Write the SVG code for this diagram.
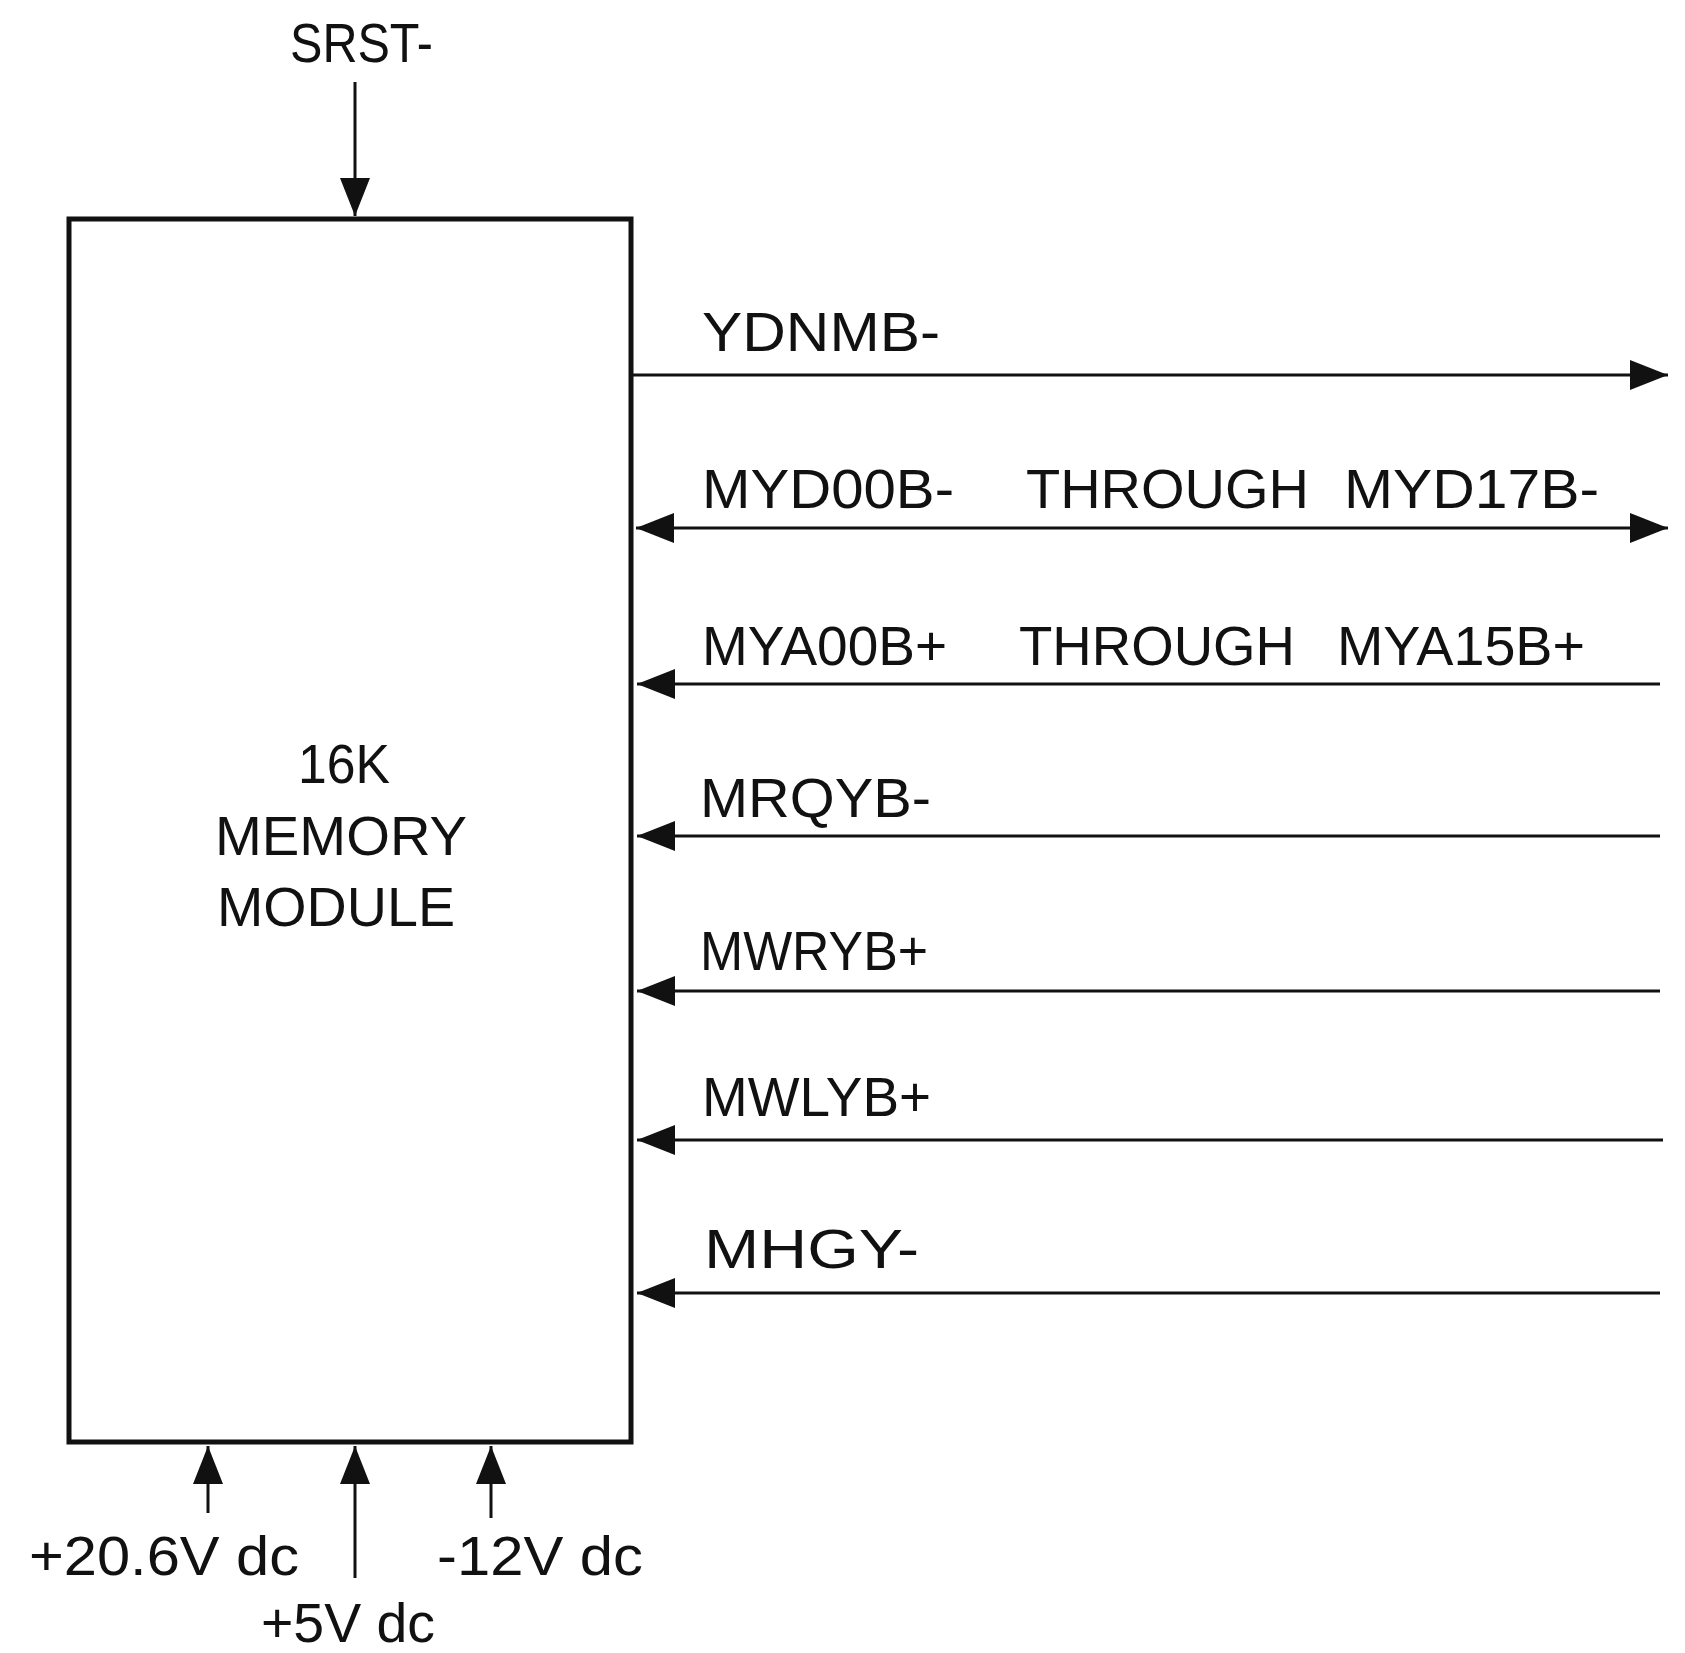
<svg xmlns="http://www.w3.org/2000/svg" width="1685" height="1653" viewBox="0 0 1685 1653">
<style>
text{font-family:"Liberation Sans",Arial,sans-serif;font-size:56px;fill:#111}
.box{fill:none;stroke:#111;stroke-width:5}
.wire{fill:none;stroke:#111;stroke-width:3}
</style>
<defs>
<marker id="ah" markerUnits="userSpaceOnUse" markerWidth="38" markerHeight="30" refX="38" refY="15" orient="auto-start-reverse">
<path d="M0,0 L38,15 L0,30 Z" fill="#111"/>
</marker>
</defs>
<rect width="1685" height="1653" fill="#fff"/>
<g id="memory-module">
<rect class="box" x="69" y="219" width="562" height="1223"/>
<text x="298" y="783" textLength="92" lengthAdjust="spacingAndGlyphs">16K</text>
<text x="215" y="855" textLength="252" lengthAdjust="spacingAndGlyphs">MEMORY</text>
<text x="217" y="926" textLength="238" lengthAdjust="spacingAndGlyphs">MODULE</text>
</g>
<g id="connectors">
<line class="wire" x1="355" y1="82" x2="355" y2="216" marker-end="url(#ah)"/>
<line class="wire" x1="633" y1="375" x2="1668" y2="375" marker-end="url(#ah)"/>
<line class="wire" x1="636" y1="528" x2="1668" y2="528" marker-start="url(#ah)" marker-end="url(#ah)"/>
<line class="wire" x1="1660" y1="684" x2="637" y2="684" marker-end="url(#ah)"/>
<line class="wire" x1="1660" y1="836" x2="637" y2="836" marker-end="url(#ah)"/>
<line class="wire" x1="1660" y1="991" x2="637" y2="991" marker-end="url(#ah)"/>
<line class="wire" x1="1663" y1="1140" x2="637" y2="1140" marker-end="url(#ah)"/>
<line class="wire" x1="1660" y1="1293" x2="637" y2="1293" marker-end="url(#ah)"/>
<line class="wire" x1="208" y1="1513" x2="208" y2="1446" marker-end="url(#ah)"/>
<line class="wire" x1="355" y1="1578" x2="355" y2="1446" marker-end="url(#ah)"/>
<line class="wire" x1="491" y1="1518" x2="491" y2="1446" marker-end="url(#ah)"/>
</g>
<g id="labels">
<text x="290" y="62" textLength="143" lengthAdjust="spacingAndGlyphs">SRST-</text>
<text x="702" y="351" textLength="238" lengthAdjust="spacingAndGlyphs">YDNMB-</text>
<text x="702" y="508" textLength="252" lengthAdjust="spacingAndGlyphs">MYD00B-</text>
<text x="1026" y="508" textLength="283" lengthAdjust="spacingAndGlyphs">THROUGH</text>
<text x="1344" y="508" textLength="255" lengthAdjust="spacingAndGlyphs">MYD17B-</text>
<text x="702" y="665" textLength="245" lengthAdjust="spacingAndGlyphs">MYA00B+</text>
<text x="1019" y="665" textLength="276" lengthAdjust="spacingAndGlyphs">THROUGH</text>
<text x="1337" y="665" textLength="248" lengthAdjust="spacingAndGlyphs">MYA15B+</text>
<text x="700" y="817" textLength="231" lengthAdjust="spacingAndGlyphs">MRQYB-</text>
<text x="700" y="970" textLength="228" lengthAdjust="spacingAndGlyphs">MWRYB+</text>
<text x="702" y="1116" textLength="229" lengthAdjust="spacingAndGlyphs">MWLYB+</text>
<text x="704" y="1268" textLength="215" lengthAdjust="spacingAndGlyphs">MHGY-</text>
<text x="29" y="1575" textLength="270" lengthAdjust="spacingAndGlyphs">+20.6V dc</text>
<text x="437" y="1575" textLength="206" lengthAdjust="spacingAndGlyphs">-12V dc</text>
<text x="261" y="1642" textLength="174" lengthAdjust="spacingAndGlyphs">+5V dc</text>
</g>
</svg>
